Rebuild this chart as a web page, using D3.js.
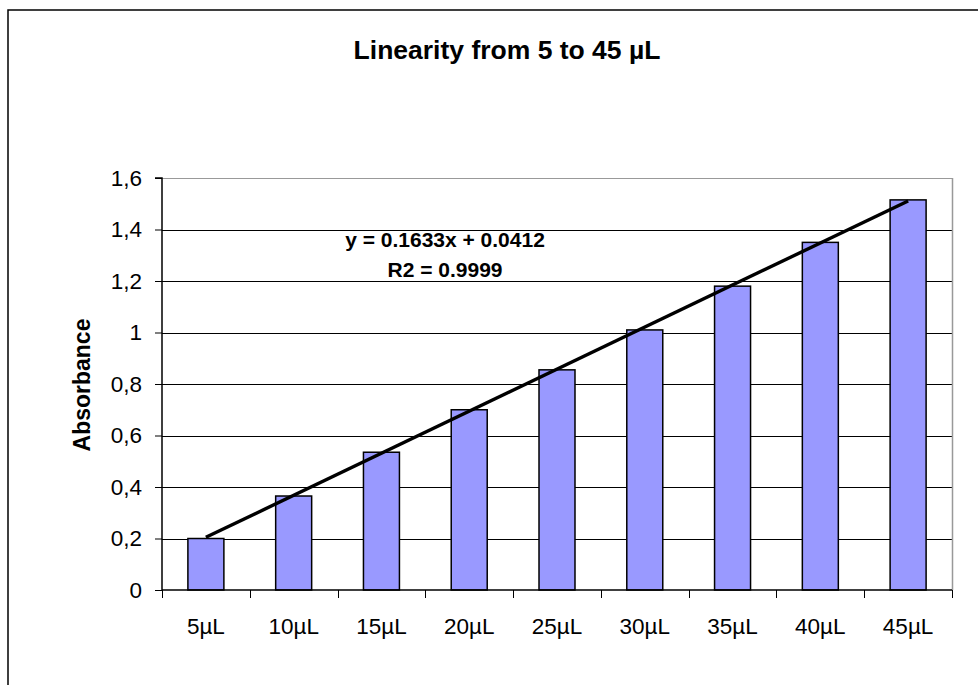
<!DOCTYPE html>
<html>
<head>
<meta charset="utf-8">
<script src="https://cdn.jsdelivr.net/npm/d3@7"></script>
<style>
  html, body { margin: 0; padding: 0; background: #fff; }
  svg { display: block; font-family: "Liberation Sans", Arial, sans-serif; }
</style>
</head>
<body>
<svg id="chart" width="978" height="685"></svg>
<script>
const categories = ["5µL", "10µL", "15µL", "20µL", "25µL", "30µL", "35µL", "40µL", "45µL"];
const absorbance = [0.2, 0.365, 0.535, 0.70, 0.855, 1.01, 1.18, 1.35, 1.515];
const yTicks = [0, 0.2, 0.4, 0.6, 0.8, 1, 1.2, 1.4, 1.6];
const trendSlope = 0.1633;
const trendIntercept = 0.0412;
const equationLines = ["y = 0.1633x + 0.0412", "R2 = 0.9999"];
const titleText = "Linearity from 5 to 45 µL";
const yLabel = "Absorbance";

const svg = d3.select("#chart");
const plot = { left: 162, right: 952, top: 178, bottom: 590 };

// outer chart frame
svg.append("rect").attr("x", 8).attr("y", 10).attr("width", 1000).attr("height", 700)
  .attr("fill", "#fff").attr("stroke", "#000").attr("stroke-width", 1.5);

const x = d3.scaleBand().domain(categories).range([plot.left, plot.right])
  .paddingInner(0.59).paddingOuter(0.295);
const xCat = d3.scaleBand().domain(categories).range([plot.left, plot.right]).padding(0);
const y = d3.scaleLinear().domain([0, 1.6]).range([plot.bottom, plot.top]);

// gridlines
svg.append("g").selectAll("line").data(yTicks.filter(d => d > 0)).join("line")
  .attr("x1", plot.left).attr("x2", plot.right)
  .attr("y1", d => Math.round(y(d)) + 0.5).attr("y2", d => Math.round(y(d)) + 0.5)
  .attr("stroke", d => d === 1.6 ? "#999" : "#000").attr("stroke-width", 1);

// right border of plot area
svg.append("line").attr("x1", plot.right + 0.5).attr("x2", plot.right + 0.5)
  .attr("y1", plot.top).attr("y2", plot.bottom)
  .attr("stroke", "#999").attr("stroke-width", 1.5);

// bars
svg.append("g").selectAll("rect").data(absorbance).join("rect")
  .attr("x", (d, i) => x(categories[i]))
  .attr("y", d => y(d))
  .attr("width", x.bandwidth())
  .attr("height", d => y(0) - y(d))
  .attr("fill", "#9999FF").attr("stroke", "#000").attr("stroke-width", 1.5);

// y axis
const yAxis = d3.axisLeft(y).tickValues(yTicks).tickSize(7).tickPadding(13)
  .tickFormat(d => d3.format("")(d).replace(".", ","));
const gy = svg.append("g").attr("transform", `translate(${plot.left},0)`).call(yAxis);
gy.select(".domain").attr("stroke", "#000").attr("stroke-width", 1.5).attr("d", `M-7,${plot.top}H0V${plot.bottom}`);
gy.selectAll(".tick line").attr("stroke", "#000");
gy.selectAll(".tick text").attr("font-size", 22.5).attr("fill", "#000")
  .attr("font-family", "'Liberation Sans', Arial, sans-serif");

// x axis
const xAxis = d3.axisBottom(xCat).tickSize(0).tickPadding(28);
const gx = svg.append("g").attr("transform", `translate(0,${plot.bottom})`).call(xAxis);
gx.select(".domain").attr("stroke", "#000").attr("stroke-width", 1.5).attr("d", `M${plot.left},0H${plot.right}`);
gx.selectAll(".tick text").attr("font-size", 22.5).attr("fill", "#000")
  .attr("font-family", "'Liberation Sans', Arial, sans-serif");
// category boundary tick marks
const bounds = categories.map(c => xCat(c)).concat([plot.right]);
svg.append("g").selectAll("line").data(bounds).join("line")
  .attr("x1", d => Math.round(d) + 0.5).attr("x2", d => Math.round(d) + 0.5)
  .attr("y1", plot.bottom).attr("y2", plot.bottom + 8)
  .attr("stroke", "#000").attr("stroke-width", 1);

// trend line
const cx = i => xCat(categories[i]) + xCat.bandwidth() / 2;
const n = categories.length;
svg.append("line")
  .attr("x1", cx(0)).attr("y1", y(trendSlope * 1 + trendIntercept))
  .attr("x2", cx(n - 1)).attr("y2", y(trendSlope * n + trendIntercept))
  .attr("stroke", "#000").attr("stroke-width", 3.4);

// equation
svg.append("g").selectAll("text").data(equationLines).join("text")
  .attr("x", 445).attr("y", (d, i) => 247 + i * 30)
  .attr("text-anchor", "middle").attr("font-size", 21).attr("font-weight", "bold")
  .attr("fill", "#000").text(d => d);

// title
svg.append("text").attr("x", 507).attr("y", 59).attr("text-anchor", "middle")
  .attr("font-size", 26.5).attr("font-weight", "bold").attr("fill", "#000").text(titleText);

// y label
svg.append("text").attr("transform", "translate(90,385) rotate(-90)")
  .attr("text-anchor", "middle").attr("font-size", 23).attr("font-weight", "bold")
  .attr("fill", "#000").text(yLabel);
</script>
</body>
</html>
